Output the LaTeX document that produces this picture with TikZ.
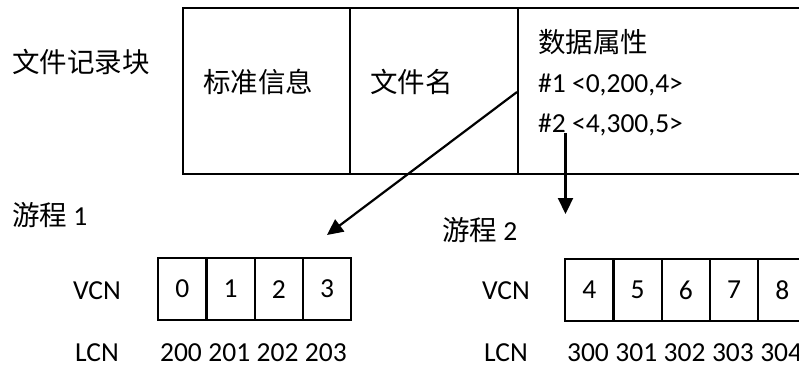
\documentclass[tikz,border=0pt]{standalone}
\usepackage{fontspec}
\setmainfont{Carlito}
\newfontfamily\cjk{Noto Sans CJK SC}
\usetikzlibrary{arrows.meta}
\begin{document}
\begin{tikzpicture}[x=1pt,y=-1pt,
  font=\fontsize{27.5}{30}\selectfont,
  frame/.style={draw, line width=2.2pt, inner sep=0pt, minimum height=166pt, anchor=north west},
  cellbox/.style={draw, line width=2.2pt, inner sep=0pt, minimum width=48.3pt, minimum height=62pt, anchor=north west},
  lbl/.style={inner sep=0pt, anchor=base west},
  num/.style={inner sep=0pt, anchor=base},
  link/.style={line width=2.2pt, -{Triangle[length=16pt,width=15pt]}}]
\useasboundingbox (0,0) rectangle (799,367);
\clip (0,0) rectangle (799,367);
% file record block
\node[lbl] (title) at (12,72) {\cjk 文件记录块};
\node[frame, minimum width=167pt] (rec1) at (182,7) {};
\node[frame, minimum width=168pt] (rec2) at (349,7) {};
\node[frame, minimum width=330pt] (rec3) at (517,7) {};
\node[lbl] (std) at (203,92) {\cjk 标准信息};
\node[lbl] (fname) at (370,92) {\cjk 文件名};
\node[lbl] (attr) at (538,52) {\cjk 数据属性};
\node[lbl] (r1) at (538,92) {\#1 <0,200,4>};
\node[lbl] (r2) at (538,132) {\#2 <4,300,5>};
% run 1
\node[lbl] (run1) at (12,225) {{\cjk 游程} 1};
\node[inner sep=0pt, anchor=base] (vcn1) at (97,299) {VCN};
\node[inner sep=0pt, anchor=base] (lcn1) at (97,361) {LCN};
\foreach \v/\l [count=\i from 0] in {0/200,1/201,2/202,3/203} {
  \node[cellbox] (a\i) at (157+48.3*\i,257) {\v};
  \node[num] (la\i) at (181+48.3*\i,361) {\l};
}
% run 2
\node[lbl] (run2) at (442,240) {{\cjk 游程} 2};
\node[inner sep=0pt, anchor=base] (vcn2) at (506,299) {VCN};
\node[inner sep=0pt, anchor=base] (lcn2) at (506,361) {LCN};
\foreach \v/\l [count=\i from 0] in {4/300,5/301,6/302,7/303,8/304} {
  \node[cellbox] (b\i) at (564+48.3*\i,258) {\v};
  \node[num] (lb\i) at (588+48.3*\i,361) {\l};
}
% connectors
\coordinate (s1) at (517,92);
\coordinate (e1) at (327,235);
\coordinate (s2) at (565.5,133);
\coordinate (e2) at (565.5,214);
\draw[link] (s1) -- (e1);
\draw[link] (s2) -- (e2);
\end{tikzpicture}
\end{document}
